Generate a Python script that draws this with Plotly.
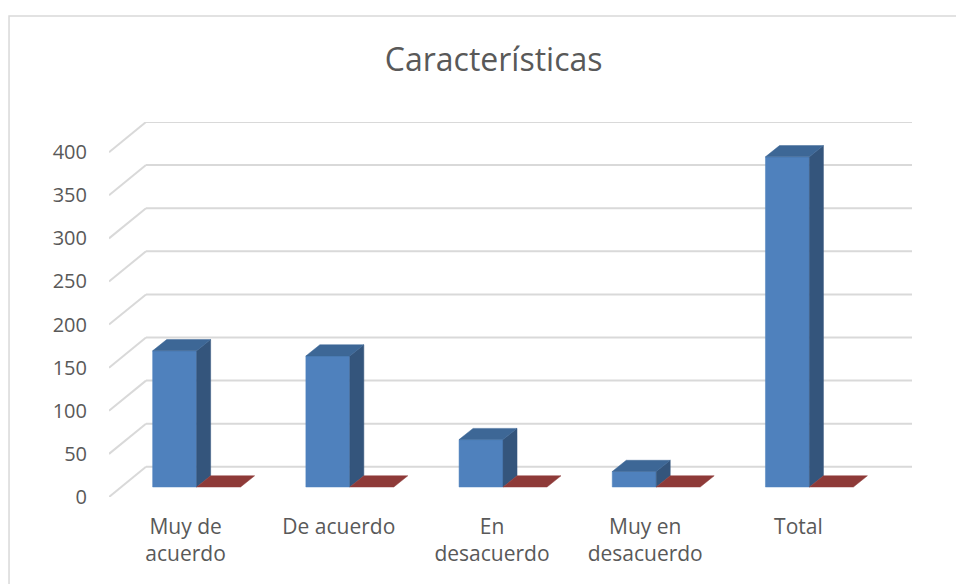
import plotly.graph_objects as go

categories = ["Muy de<br>acuerdo", "De acuerdo", "En<br>desacuerdo", "Muy en<br>desacuerdo", "Total"]
serie1 = [158, 152, 55, 18, 383]
serie2 = [0, 0, 0, 0, 0]
y_ticks = [0, 50, 100, 150, 200, 250, 300, 350, 400]

FONT = "'Open Sans', sans-serif"
TXT = "#595959"
GRID = "#D9D9D9"
BLUE_FRONT = "#4F81BD"
BLUE_SIDE = "#34557C"
BLUE_TOP = "#3D6796"
RED_FRONT = "#C0504D"
RED_SIDE = "#7D2F2D"
RED_TOP = "#8E3A38"

# 3D projection parameters (axis units)
WALL_DX, WALL_DY = 0.2415, 35.0      # back wall offset
BASE = 11.6                          # bar floor depth offset (value units)
BAR_DX, BAR_DY = 0.0914, 13.0        # bar depth
BAR_W = 0.287
OFF1, OFF2 = -0.215, 0.072

n = len(categories)
idx = list(range(n))
X0, X1 = -0.5, n - 0.5

fig = go.Figure()

shapes = []
for v in y_ticks:
    shapes.append(dict(type="line", xref="x", yref="y", x0=X0, y0=v, x1=X0 + WALL_DX, y1=v + WALL_DY,
                       line=dict(color=GRID, width=2), layer="below"))
    shapes.append(dict(type="line", xref="x", yref="y", x0=X0 + WALL_DX, y0=v + WALL_DY, x1=X1 + WALL_DX, y1=v + WALL_DY,
                       line=dict(color=GRID, width=2), layer="below"))
shapes.append(dict(type="rect", xref="paper", yref="paper", x0=-0.1245, y0=-0.6, x1=1.2, y1=1.2827,
                   line=dict(color="#D9D9D9", width=1.5), layer="below"))


def poly(xs, ys, color):
    fig.add_trace(go.Scatter(x=xs + [xs[0]], y=ys + [ys[0]], mode="lines", fill="toself",
                             fillcolor=color, line=dict(color=color, width=0.5),
                             hoverinfo="skip", showlegend=False, cliponaxis=False))


for series, off, cf, cs, ct in [(serie1, OFF1, BLUE_FRONT, BLUE_SIDE, BLUE_TOP),
                                (serie2, OFF2, RED_FRONT, RED_SIDE, RED_TOP)]:
    for i, v in zip(idx, series):
        xl = i + off
        xr = xl + BAR_W
        b, t = BASE, BASE + v
        if v > 0:
            poly([xl, xr, xr, xl], [b, b, t, t], cf)
            poly([xr, xr + BAR_DX, xr + BAR_DX, xr], [b, b + BAR_DY, t + BAR_DY, t], cs)
        poly([xl, xr, xr + BAR_DX, xl + BAR_DX], [t, t, t + BAR_DY, t + BAR_DY], ct)

fig.update_layout(
    width=956, height=584,
    margin=dict(l=109, r=44, t=122, b=87),
    paper_bgcolor="white", plot_bgcolor="white",
    font=dict(family=FONT, color=TXT, size=21),
    title=dict(text="Características", font=dict(family=FONT, size=32, color=TXT),
               x=0.479, xref="paper", xanchor="center", y=1 - 60 / 584, yref="container", yanchor="middle"),
    shapes=shapes,
    showlegend=False,
    xaxis=dict(range=[X0, X1 + WALL_DX], tickvals=idx, ticktext=categories, showgrid=False,
               zeroline=False, showline=False, ticks="", ticklabelstandoff=15,
               tickfont=dict(size=21, color=TXT), fixedrange=True),
    yaxis=dict(range=[0, 435], tickvals=y_ticks, showgrid=False, zeroline=False, showline=False,
               ticks="", ticklabelstandoff=21, tickfont=dict(size=20, color=TXT), fixedrange=True),
)

fig.write_html("out.html")
